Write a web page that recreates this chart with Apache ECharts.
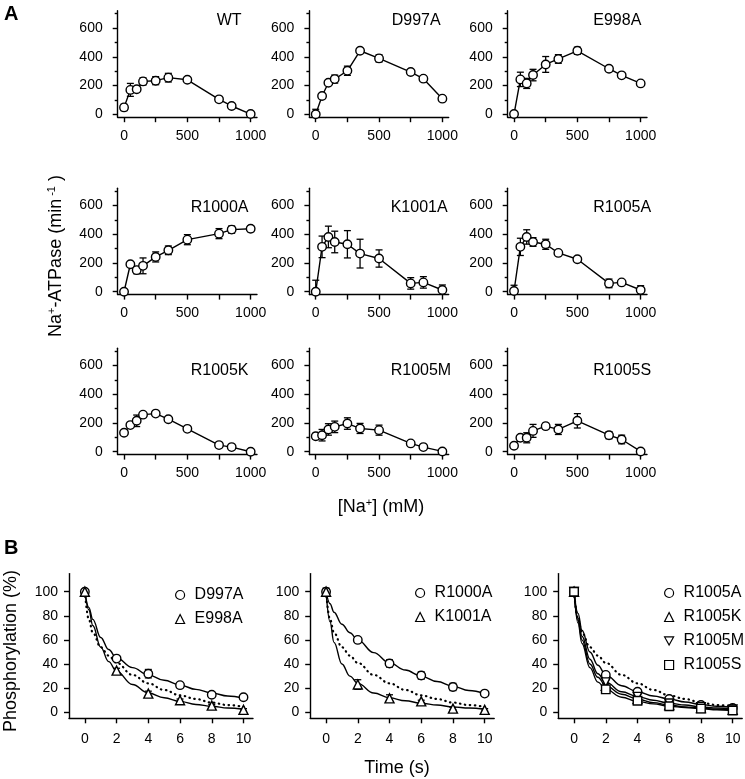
<!DOCTYPE html>
<html><head><meta charset="utf-8">
<script src="https://cdn.jsdelivr.net/npm/echarts@6/dist/echarts.min.js"></script>
<style>html,body{margin:0;padding:0;background:#fff}#c{width:745px;height:779px}</style>
</head><body><div id="c"></div>
<script>
// ===== Panel A: Na+-ATPase activity (min^-1) vs [Na+] (mM) =====
const naConc = [0, 50, 100, 150, 250, 350, 500, 750, 850, 1000];
const naXTicks = [0, 250, 500, 750, 1000];
const naXLabels = [0, 500, 1000];
const actYTicks = [0, 200, 400, 600];
const actYMinor = [100, 300, 500, 700];

const wtAct = [48, 170, 174, 229, 234, 255, 240, 104, 58, 2];
const wtErr = [22, 45, 15, 25, 28, 30, 8, 10, 12, 8];
const d997aAct = [0, 127, 220, 245, 303, 442, 389, 294, 248, 109];
const d997aErr = [35, 10, 10, 28, 32, 8, 25, 10, 18, 18];
const e998aAct = [2, 243, 215, 273, 347, 385, 442, 317, 271, 215];
const e998aErr = [10, 50, 35, 40, 55, 30, 25, 8, 10, 12];
const r1000aAct = [0, 191, 150, 180, 242, 288, 362, 404, 432, 438];
const r1000aErr = [5, 10, 25, 55, 35, 30, 35, 35, 25, 20];
const k1001aAct = [0, 312, 381, 346, 330, 265, 231, 58, 65, 12];
const k1001aErr = [80, 75, 75, 75, 95, 100, 60, 40, 40, 35];
const r1005aAct = [5, 312, 381, 346, 330, 270, 226, 58, 65, 12];
const r1005aErr = [40, 60, 50, 30, 35, 10, 10, 30, 10, 30];
const r1005kAct = [132, 185, 215, 258, 265, 226, 159, 46, 32, 0];
const r1005kErr = [8, 10, 40, 10, 10, 8, 8, 8, 8, 5];
const r1005mAct = [108, 115, 155, 173, 196, 162, 150, 58, 32, 2];
const r1005mErr = [20, 40, 40, 40, 40, 35, 35, 8, 8, 10];
const r1005sAct = [42, 97, 97, 145, 178, 155, 215, 115, 85, 2];
const r1005sErr = [8, 15, 35, 45, 20, 35, 50, 25, 30, 8];

const panelNamesA = ['WT', 'D997A', 'E998A', 'R1000A', 'K1001A', 'R1005A', 'R1005K', 'R1005M', 'R1005S'];
const panelActA = [wtAct, d997aAct, e998aAct, r1000aAct, k1001aAct, r1005aAct, r1005kAct, r1005mAct, r1005sAct];
const panelErrA = [wtErr, d997aErr, e998aErr, r1000aErr, k1001aErr, r1005aErr, r1005kErr, r1005mErr, r1005sErr];

// ===== Panel B: Phosphorylation (%) vs Time (s) =====
const timePts = [0, 2, 4, 6, 8, 10];
const timeTicks = [0, 2, 4, 6, 8, 10];
const phosYTicks = [0, 20, 40, 60, 80, 100];
const d997aPhos = [100, 44.5, 32, 22.5, 14.5, 12.5];
const d997aPhosErr = [1.5, 2, 3.5, 1.5, 1.5, 1.5];
const e998aPhos = [100, 34.5, 15.5, 10, 5.5, 2];
const e998aPhosErr = [1.5, 2, 2, 1, 1, 1];
const r1000aPhos = [100, 60, 40.5, 30.5, 21, 15.5];
const r1000aPhosErr = [3, 2, 3, 3, 3, 1];
const k1001aPhos = [100, 23, 11.5, 9, 3, 2];
const k1001aPhosErr = [2, 4, 3, 1, 1, 1];
const r1005aPhos = [100, 31, 17, 11, 6, 3.5];
const r1005kPhos = [100, 22, 11, 6, 3.5, 2];
const r1005mPhos = [100, 25, 13, 7.5, 4.5, 2.5];
const r1005sPhos = [100, 19, 9.5, 5, 3, 1.5];
const smallErr = [1.5, 1.5, 1.5, 1, 1, 1];

// fitted curves
const fitT = [0, 0.25, 0.5, 1, 1.5, 2, 3, 4, 5, 6, 7, 8, 9, 10];
const wtFit = [100, 77, 66, 54, 47, 41, 31, 24, 18.5, 14, 11, 8, 6, 4.5];
const d997aFit = [100, 87, 77, 62, 52, 45, 37, 31, 26.5, 22.5, 19, 16, 13.5, 11.5];
const e998aFit = [100, 85, 72, 54, 42, 34, 23, 16, 12, 9, 6.5, 5, 3.5, 2.5];
const r1000aFit = [100, 90, 83, 73, 66, 60, 49.5, 41, 35, 30, 25.5, 21.5, 18, 15.5];
const k1001aFit = [100, 75, 58, 40, 30, 24, 16, 12, 9.5, 7.5, 6, 4.5, 3.5, 2.5];
const r1005aFit = [100, 82, 68, 50, 39, 31, 22, 17, 13.5, 11, 8.5, 6.5, 5, 4];
const r1005mFit = [100, 78, 63, 44, 32, 25, 17, 13, 10, 7.5, 6, 4.5, 3.5, 2.5];
const r1005kFit = [100, 76, 60, 40, 29, 22, 15, 11, 8, 6, 4.5, 3.5, 2.5, 2];
const r1005sFit = [100, 74, 57, 37, 25, 19, 12.5, 9, 7, 5, 4, 3, 2, 1.5];

// ===== layout =====
const FONT = '"Liberation Sans", Arial, Helvetica, sans-serif';
const colLeftA = [117.7, 309.4, 507.7];
const rowTopA = [10.8, 188.2, 348.2];
const gridWA = 139.3, gridHA = 106.4;
const titlePosA = [[216.7, 20.4], [391.7, 20.4], [593.3, 20.4],
                   [190.7, 208], [390.7, 208], [593.3, 208],
                   [190.7, 370.7], [390.7, 370.7], [593.3, 370.7]];
const gridLeftB = [69, 310.2, 558.2];
const gridWB = 184, gridTopB = 573.6, gridHB = 144.7;

const BLACK = '#000';
const markStyle = {color: '#fff', borderColor: BLACK, borderWidth: 1.4, opacity: 1};

function errRender(minVal) {
  return function (params, api) {
    const x = api.value(0), y = api.value(1), e = api.value(2);
    const lowV = y - e;
    const clamped = lowV < minVal;
    const hi = api.coord([x, y + e]);
    const lo = api.coord([x, clamped ? minVal : lowV]);
    const cw = 3.5;
    const st = {stroke: BLACK, lineWidth: 1.3, fill: null};
    const ch = [
      {type: 'line', shape: {x1: hi[0], y1: hi[1], x2: lo[0], y2: lo[1]}, style: st},
      {type: 'line', shape: {x1: hi[0] - cw, y1: hi[1], x2: hi[0] + cw, y2: hi[1]}, style: st}
    ];
    if (!clamped) ch.push({type: 'line', shape: {x1: lo[0] - cw, y1: lo[1], x2: lo[0] + cw, y2: lo[1]}, style: st});
    return {type: 'group', children: ch};
  };
}

const grids = [], xAxes = [], yAxes = [], series = [], graphics = [], legends = [];
const axisLineStyle = {color: BLACK, width: 1.4};
const labelStyle = {fontSize: 14, color: BLACK, fontFamily: FONT, formatter: v => String(v)};

// ---- Panel A grids ----
for (let i = 0; i < 9; i++) {
  const r = Math.floor(i / 3), c = i % 3;
  grids.push({left: colLeftA[c], top: rowTopA[r], width: gridWA, height: gridHA});
  xAxes.push({type: 'value', gridIndex: i, min: -50, max: 1050, position: 'bottom',
    axisLine: {show: true, onZero: false, lineStyle: axisLineStyle},
    axisTick: {show: true, length: 5, customValues: naXTicks, lineStyle: axisLineStyle},
    axisLabel: Object.assign({show: true, margin: 12, customValues: naXLabels}, labelStyle),
    splitLine: {show: false}});
  yAxes.push({type: 'value', gridIndex: i, min: -20, max: 720, position: 'left',
    axisLine: {show: true, onZero: false, lineStyle: axisLineStyle},
    axisTick: {show: true, length: 5, customValues: actYTicks, lineStyle: axisLineStyle},
    axisLabel: Object.assign({show: true, margin: 15, customValues: actYTicks}, labelStyle),
    splitLine: {show: false}});
  yAxes.push({type: 'value', gridIndex: i, min: -20, max: 720, position: 'left',
    axisLine: {show: false, onZero: false},
    axisTick: {show: true, length: 3, customValues: actYMinor, lineStyle: axisLineStyle},
    axisLabel: {show: false},
    splitLine: {show: false}});
  const act = panelActA[i], err = panelErrA[i];
  series.push({type: 'custom', xAxisIndex: i, yAxisIndex: 2 * i, z: 2,
    renderItem: errRender(-18), encode: {x: 0, y: 1},
    data: naConc.map((x, k) => [x, act[k], err[k]])});
  series.push({type: 'line', xAxisIndex: i, yAxisIndex: 2 * i, z: 3,
    name: panelNamesA[i] + ' activity',
    symbol: 'circle', symbolSize: 8.5, itemStyle: markStyle,
    lineStyle: {color: BLACK, width: 1.4}, animation: false,
    data: naConc.map((x, k) => [x, act[k]])});
  graphics.push({type: 'text', x: titlePosA[i][0], y: titlePosA[i][1],
    style: {text: panelNamesA[i], fontSize: 16, fontFamily: FONT, fill: BLACK,
      textAlign: 'left', textVerticalAlign: 'middle'}});
}

// ---- Panel B grids ----
const bSets = [
  [
    {name: 'D997A', pts: d997aPhos, err: d997aPhosErr, fit: d997aFit, sym: 'circle'},
    {name: 'E998A', pts: e998aPhos, err: e998aPhosErr, fit: e998aFit, sym: 'triangle'}
  ],
  [
    {name: 'R1000A', pts: r1000aPhos, err: r1000aPhosErr, fit: r1000aFit, sym: 'circle'},
    {name: 'K1001A', pts: k1001aPhos, err: k1001aPhosErr, fit: k1001aFit, sym: 'triangle'}
  ],
  [
    {name: 'R1005A', pts: r1005aPhos, err: smallErr, fit: r1005aFit, sym: 'circle'},
    {name: 'R1005K', pts: r1005kPhos, err: smallErr, fit: r1005kFit, sym: 'triangle'},
    {name: 'R1005M', pts: r1005mPhos, err: smallErr, fit: r1005mFit, sym: 'path://M0,0 L10,0 L5,9 Z'},
    {name: 'R1005S', pts: r1005sPhos, err: smallErr, fit: r1005sFit, sym: 'rect'}
  ]
];
const legendPos = [[170, 582], [410, 580], [659, 580]];

for (let j = 0; j < 3; j++) {
  const gi = 9 + j;
  grids.push({left: gridLeftB[j], top: gridTopB, width: gridWB, height: gridHB});
  xAxes.push({type: 'value', gridIndex: gi, min: -1, max: 10.6, position: 'bottom',
    axisLine: {show: true, onZero: false, lineStyle: axisLineStyle},
    axisTick: {show: true, length: 5, customValues: timeTicks, lineStyle: axisLineStyle},
    axisLabel: Object.assign({show: true, margin: 14, customValues: timeTicks}, labelStyle),
    splitLine: {show: false}});
  const yi = yAxes.length;
  yAxes.push({type: 'value', gridIndex: gi, min: -5, max: 115, position: 'left',
    axisLine: {show: true, onZero: false, lineStyle: axisLineStyle},
    axisTick: {show: true, length: 5, customValues: phosYTicks, lineStyle: axisLineStyle},
    axisLabel: Object.assign({show: true, margin: 11, customValues: phosYTicks}, labelStyle),
    splitLine: {show: false}});
  // WT reference (dotted)
  series.push({type: 'line', name: 'WT fit ' + j, xAxisIndex: gi, yAxisIndex: yi, z: 2,
    symbol: 'none', smooth: 0.4, smoothMonotone: 'x', animation: false,
    lineStyle: {color: BLACK, width: 2.2, type: [0.5, 4.5], cap: 'round'},
    data: fitT.map((t, k) => [t, wtFit[k]])});
  const names = [];
  bSets[j].forEach(s => {
    names.push({name: s.name, icon: s.sym});
    series.push({type: 'line', name: s.name + ' fit', xAxisIndex: gi, yAxisIndex: yi, z: 2,
      symbol: 'none', smooth: 0.4, smoothMonotone: 'x', animation: false,
      lineStyle: {color: BLACK, width: 1.4},
      data: fitT.map((t, k) => [t, s.fit[k]])});
    series.push({type: 'custom', xAxisIndex: gi, yAxisIndex: yi, z: 3,
      renderItem: errRender(-4), encode: {x: 0, y: 1},
      data: timePts.map((t, k) => [t, s.pts[k], s.err[k]])});
    series.push({type: 'scatter', name: s.name, xAxisIndex: gi, yAxisIndex: yi, z: 4,
      symbol: s.sym, symbolSize: s.sym === 'triangle' ? 9 : 8.5, itemStyle: markStyle,
      animation: false,
      data: timePts.map((t, k) => [t, s.pts[k]])});
  });
  legends.push({orient: 'vertical', left: legendPos[j][0], top: legendPos[j][1],
    itemWidth: 9, itemHeight: 9, itemGap: 8, selectedMode: false,
    itemStyle: {color: '#fff', borderColor: BLACK, borderWidth: 1.2, opacity: 1},
    textStyle: {fontSize: 16, color: BLACK, fontFamily: FONT, padding: [0, 0, 0, 5]},
    data: names});
}

// ---- text labels ----
graphics.push({type: 'text', x: 4, y: 14, style: {text: 'A', fontSize: 20, fontWeight: 'bold', fontFamily: FONT, fill: BLACK, textVerticalAlign: 'middle'}});
graphics.push({type: 'text', x: 4, y: 548, style: {text: 'B', fontSize: 20, fontWeight: 'bold', fontFamily: FONT, fill: BLACK, textVerticalAlign: 'middle'}});
const richLab = {
  n: {fontSize: 18, fontFamily: FONT, fill: BLACK, color: BLACK},
  s: {fontSize: 11, fontFamily: FONT, fill: BLACK, color: BLACK, verticalAlign: 'top', padding: [0, 0, 8, 0]}
};
graphics.push({type: 'text', x: 56, y: 256, rotation: Math.PI / 2,
  style: {text: '{n|Na}{s|+}{n|-ATPase (min}{s| -1}{n| )}', rich: richLab,
    textAlign: 'center', textVerticalAlign: 'middle'}});
graphics.push({type: 'text', x: 381, y: 507,
  style: {text: '{n|[Na}{s|+}{n|] (mM)}', rich: richLab,
    textAlign: 'center', textVerticalAlign: 'middle'}});
graphics.push({type: 'text', x: 397, y: 768,
  style: {text: 'Time (s)', fontSize: 18, fontFamily: FONT, fill: BLACK,
    textAlign: 'center', textVerticalAlign: 'middle'}});
graphics.push({type: 'text', x: 11, y: 651, rotation: Math.PI / 2,
  style: {text: 'Phosphorylation (%)', fontSize: 18, fontFamily: FONT, fill: BLACK,
    textAlign: 'center', textVerticalAlign: 'middle'}});

const chart = echarts.init(document.getElementById('c'), null, {renderer: 'canvas'});
chart.setOption({
  backgroundColor: '#fff',
  animation: false,
  textStyle: {fontFamily: FONT},
  grid: grids, xAxis: xAxes, yAxis: yAxes, series: series,
  legend: legends, graphic: graphics
});
</script></body></html>
